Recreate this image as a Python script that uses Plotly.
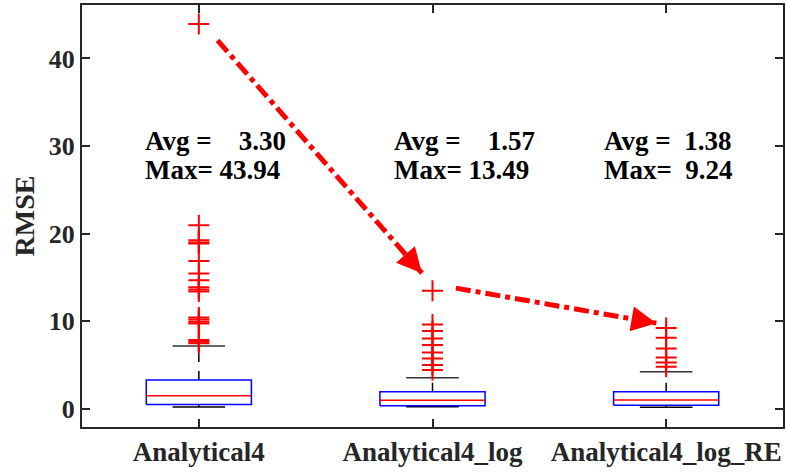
import plotly.graph_objects as go

categories = ["Analytical4", "Analytical4_log", "Analytical4_log_RE"]
q1 = [0.53, 0.38, 0.42]
medians = [1.52, 0.99, 1.03]
q3 = [3.30, 1.97, 1.97]
lower_whisker = [0.23, 0.26, 0.19]
upper_whisker = [7.2, 3.57, 4.25]
outliers = [
    [43.94, 20.98, 19.27, 19.0, 18.9, 16.88, 15.47, 14.7, 13.9, 13.65, 13.4,
     10.45, 10.22, 9.96, 9.75, 7.87, 7.68, 7.5],
    [13.49, 9.65, 8.89, 8.06, 7.3, 6.46, 5.78, 5.02, 4.45],
    [9.24, 8.13, 6.92, 5.89, 5.32, 4.82],
]
avg_text = ["Avg =\u00a0\u00a0\u00a0 3.30", "Avg =\u00a0\u00a0\u00a0 1.57", "Avg =\u00a0 1.38"]
max_text = ["Max= 43.94", "Max= 13.49", "Max=\u00a0 9.24"]
label_x = [0.76, 1.827, 2.724]
avg_y = 30.6
max_y = 27.3
arrow1_x = [1.08, 1.955]
arrow1_y = [42.07, 15.5]
arrow2_x = [2.10, 2.958]
arrow2_y = [13.8, 9.8]

BOX_W = 0.45
CAP_W = 0.225
FONT = "Liberation Serif"

fig = go.Figure()
xs = [1, 2, 3]
for i, xc in enumerate(xs):
    hw = BOX_W / 2
    cw = CAP_W / 2
    fig.add_trace(go.Scatter(x=[xc, xc], y=[q3[i], upper_whisker[i]], mode="lines",
                             line=dict(color="black", width=1.5, dash="dash"), showlegend=False))
    fig.add_trace(go.Scatter(x=[xc, xc], y=[lower_whisker[i], q1[i]], mode="lines",
                             line=dict(color="black", width=1.5, dash="dash"), showlegend=False))
    fig.add_trace(go.Scatter(x=[xc - cw, xc + cw], y=[upper_whisker[i]] * 2, mode="lines",
                             line=dict(color="#333333", width=1.5), showlegend=False))
    fig.add_trace(go.Scatter(x=[xc - cw, xc + cw], y=[lower_whisker[i]] * 2, mode="lines",
                             line=dict(color="black", width=1.5), showlegend=False))
    fig.add_trace(go.Scatter(x=[xc - hw, xc + hw, xc + hw, xc - hw, xc - hw],
                             y=[q1[i], q1[i], q3[i], q3[i], q1[i]], mode="lines",
                             line=dict(color="blue", width=1.5), showlegend=False))
    fig.add_trace(go.Scatter(x=[xc - hw, xc + hw], y=[medians[i]] * 2, mode="lines",
                             line=dict(color="red", width=1.5), showlegend=False))
    fig.add_trace(go.Scatter(x=[xc] * len(outliers[i]), y=outliers[i], mode="markers",
                             marker=dict(symbol="cross-thin", size=15,
                                         line=dict(color="red", width=2)),
                             showlegend=False))
    for txt, yy in [(avg_text[i], avg_y), (max_text[i], max_y)]:
        fig.add_annotation(x=label_x[i], y=yy, xref="x", yref="y", xanchor="left",
                           yanchor="middle", align="left", showarrow=False,
                           text=f"<b>{txt}</b>",
                           font=dict(family=FONT, size=27, color="black"))

for ax_, ay_ in [(arrow1_x, arrow1_y), (arrow2_x, arrow2_y)]:
    fig.add_trace(go.Scatter(x=ax_, y=ay_, mode="lines",
                             line=dict(color="red", width=5, dash="dashdot"), showlegend=False))
    fig.add_annotation(x=ax_[1], y=ay_[1], ax=ax_[0] + (ax_[1] - ax_[0]) * 0.95,
                       ay=ay_[0] + (ay_[1] - ay_[0]) * 0.95,
                       xref="x", yref="y", axref="x", ayref="y", text="",
                       showarrow=True, arrowhead=2, arrowsize=1.0, arrowwidth=5,
                       arrowcolor="red")

fig.update_layout(
    width=786, height=474,
    margin=dict(l=82, r=1, t=5, b=47),
    plot_bgcolor="white", paper_bgcolor="white",
    font=dict(family=FONT, size=25, color="#262626"),
)
fig.update_xaxes(range=[0.5, 3.5], tickvals=xs, ticktext=[f"<b>{c}</b>" for c in categories],
                 tickfont=dict(size=27),
                 showline=True, linecolor="#262626", linewidth=2, mirror="ticks",
                 ticks="inside", ticklen=8, tickwidth=1.5, tickcolor="#262626",
                 showgrid=False, zeroline=False)
fig.update_yaxes(range=[-2.05, 46.1], tickvals=[0, 10, 20, 30, 40],
                 ticktext=[f"<b>{v}</b>" for v in [0, 10, 20, 30, 40]],
                 tickfont=dict(size=26),
                 title=dict(text="<b>RMSE</b>", standoff=6, font=dict(size=28)),
                 showline=True, linecolor="#262626", linewidth=2, mirror="ticks",
                 ticks="inside", ticklen=8, tickwidth=1.5, tickcolor="#262626",
                 showgrid=False, zeroline=False)

fig.write_html("out.html")
